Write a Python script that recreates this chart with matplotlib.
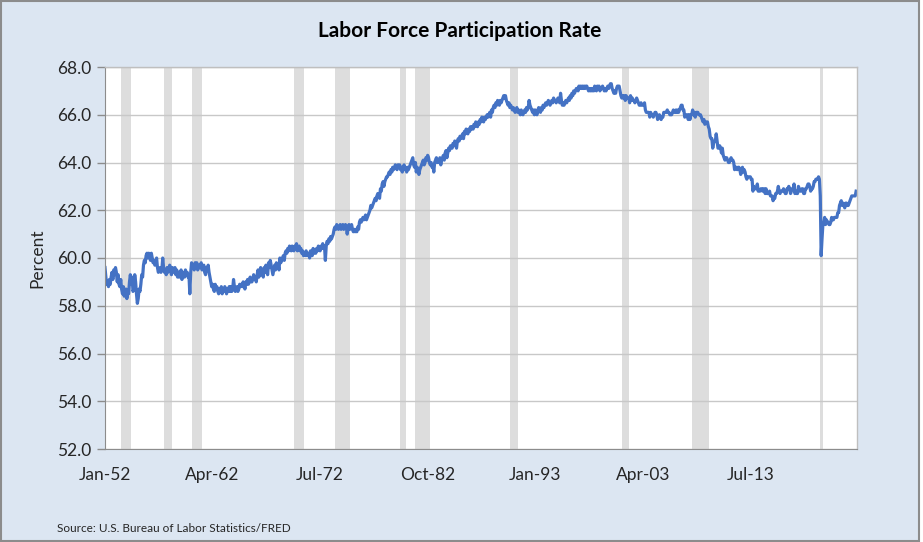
import matplotlib
matplotlib.use("Agg")
import matplotlib.pyplot as plt
from matplotlib.patches import Rectangle
import numpy as np
import pandas as pd

# ---------------- data ----------------
start_month = "1952-01"
lfpr_by_year = {
    1952: [59.6, 59.2, 58.9, 59.0, 58.8, 59.1, 58.9, 59.2, 59.4, 59.1, 59.5, 59.3],
    1953: [59.6, 59.4, 59.0, 59.3, 58.9, 58.8, 59.1, 58.7, 58.5, 58.8, 58.4, 58.6],
    1954: [58.7, 58.3, 58.6, 58.5, 59.0, 59.3, 58.9, 59.2, 58.6, 58.7, 59.3, 59.0],
    1955: [58.5, 58.1, 58.3, 58.7, 58.6, 58.9, 59.3, 59.2, 59.7, 59.9, 59.8, 60.1],
    1956: [60.2, 60.0, 60.2, 60.1, 59.9, 60.2, 60.0, 59.8, 59.9, 59.7, 59.8, 60.0],
    1957: [59.6, 59.4, 59.5, 59.6, 59.4, 59.5, 60.0, 59.6, 59.4, 59.5, 59.3, 59.6],
    1958: [59.4, 59.5, 59.7, 59.5, 59.3, 59.6, 59.5, 59.4, 59.6, 59.3, 59.5, 59.2],
    1959: [59.4, 59.2, 59.3, 59.5, 59.1, 59.4, 59.3, 59.2, 59.5, 59.3, 59.4, 59.2],
    1960: [59.3, 58.5, 59.4, 59.8, 59.6, 59.7, 59.5, 59.8, 59.6, 59.8, 59.5, 59.6],
    1961: [59.7, 59.6, 59.8, 59.5, 59.6, 59.7, 59.4, 59.3, 59.6, 59.5, 59.7, 59.4],
    1962: [59.2, 59.0, 58.8, 58.9, 58.7, 58.6, 58.9, 58.7, 58.8, 58.6, 58.5, 58.7],
    1963: [58.6, 58.8, 58.5, 58.7, 58.6, 58.8, 58.7, 58.5, 58.7, 58.6, 58.8, 58.6],
    1964: [58.8, 58.6, 58.7, 59.1, 58.8, 58.6, 58.7, 58.8, 58.6, 58.7, 58.9, 58.8],
    1965: [58.9, 58.8, 59.0, 58.9, 58.7, 59.0, 58.9, 59.1, 58.9, 59.0, 59.2, 59.0],
    1966: [59.0, 59.1, 59.3, 59.1, 59.2, 59.0, 59.3, 59.5, 59.2, 59.4, 59.6, 59.3],
    1967: [59.5, 59.2, 59.6, 59.4, 59.7, 59.5, 59.3, 59.8, 59.6, 59.9, 59.7, 59.5],
    1968: [59.3, 59.5, 59.7, 59.5, 59.8, 59.6, 59.7, 59.5, 60.0, 59.8, 59.9, 60.0],
    1969: [60.1, 59.9, 60.2, 60.3, 60.2, 60.4, 60.3, 60.5, 60.4, 60.3, 60.5, 60.4],
    1970: [60.3, 60.5, 60.4, 60.6, 60.3, 60.4, 60.5, 60.3, 60.4, 60.2, 60.3, 60.1],
    1971: [60.2, 60.1, 60.3, 60.1, 60.2, 60.2, 60.0, 60.3, 60.2, 60.1, 60.4, 60.2],
    1972: [60.3, 60.2, 60.4, 60.3, 60.5, 60.4, 60.3, 60.5, 60.4, 60.6, 60.4, 60.5],
    1973: [59.9, 60.5, 60.7, 60.6, 60.8, 60.7, 60.9, 60.8, 60.9, 61.0, 61.2, 61.3],
    1974: [61.2, 61.4, 61.3, 61.2, 61.3, 61.4, 61.2, 61.3, 61.4, 61.2, 61.3, 61.4],
    1975: [61.3, 61.0, 61.3, 61.4, 61.2, 61.3, 61.4, 61.2, 61.1, 61.2, 61.1, 61.2],
    1976: [61.1, 61.3, 61.2, 61.5, 61.6, 61.5, 61.6, 61.7, 61.6, 61.7, 61.8, 61.6],
    1977: [61.7, 61.8, 61.9, 62.0, 62.2, 62.1, 62.2, 62.3, 62.4, 62.5, 62.4, 62.6],
    1978: [62.7, 62.6, 62.5, 62.9, 62.8, 63.1, 63.2, 63.0, 63.2, 63.3, 63.4, 63.4],
    1979: [63.5, 63.6, 63.5, 63.7, 63.6, 63.8, 63.7, 63.8, 63.9, 63.8, 63.7, 63.9],
    1980: [63.8, 63.9, 63.7, 63.8, 63.6, 63.8, 63.9, 63.7, 63.8, 63.6, 63.8, 63.7],
    1981: [63.8, 63.9, 64.0, 64.1, 64.2, 63.9, 63.8, 64.0, 63.6, 63.8, 63.7, 63.5],
    1982: [63.7, 63.8, 63.9, 64.0, 64.1, 63.9, 64.0, 64.2, 64.1, 64.3, 64.2, 64.0],
    1983: [63.9, 64.0, 63.8, 63.9, 63.6, 64.0, 64.1, 64.2, 64.0, 64.1, 64.0, 64.2],
    1984: [63.9, 64.1, 64.2, 64.3, 64.1, 64.4, 64.5, 64.2, 64.4, 64.6, 64.5, 64.7],
    1985: [64.7, 64.6, 64.8, 64.7, 64.9, 64.8, 64.6, 64.9, 65.0, 64.9, 65.1, 65.0],
    1986: [65.1, 65.2, 65.0, 65.3, 65.2, 65.4, 65.3, 65.2, 65.4, 65.3, 65.5, 65.4],
    1987: [65.5, 65.4, 65.6, 65.5, 65.7, 65.6, 65.5, 65.7, 65.6, 65.8, 65.7, 65.9],
    1988: [65.8, 65.7, 65.9, 65.8, 65.9, 66.0, 65.9, 66.0, 66.1, 65.9, 66.2, 66.1],
    1989: [66.3, 66.4, 66.3, 66.5, 66.4, 66.6, 66.5, 66.4, 66.6, 66.5, 66.6, 66.7],
    1990: [66.8, 66.7, 66.8, 66.6, 66.5, 66.4, 66.5, 66.3, 66.4, 66.3, 66.2, 66.3],
    1991: [66.2, 66.1, 66.2, 66.3, 66.1, 66.2, 66.1, 66.0, 66.2, 66.1, 66.0, 66.1],
    1992: [66.2, 66.1, 66.3, 66.2, 66.3, 66.6, 66.4, 66.3, 66.2, 66.1, 66.2, 66.0],
    1993: [66.2, 66.1, 66.0, 66.2, 66.3, 66.2, 66.1, 66.3, 66.2, 66.4, 66.3, 66.4],
    1994: [66.5, 66.4, 66.5, 66.6, 66.5, 66.4, 66.5, 66.6, 66.5, 66.7, 66.6, 66.6],
    1995: [66.5, 66.6, 66.7, 66.6, 66.5, 66.9, 66.6, 66.4, 66.5, 66.4, 66.5, 66.6],
    1996: [66.5, 66.6, 66.7, 66.6, 66.8, 66.7, 66.9, 66.8, 67.0, 66.9, 67.0, 67.1],
    1997: [67.1, 67.0, 67.2, 67.1, 67.2, 67.1, 67.2, 67.1, 67.2, 67.1, 67.2, 67.2],
    1998: [67.1, 67.0, 67.1, 67.0, 67.1, 67.0, 67.1, 67.0, 67.2, 67.1, 67.0, 67.2],
    1999: [67.1, 67.2, 67.0, 67.1, 67.1, 67.2, 67.1, 67.0, 67.1, 67.0, 67.1, 67.2],
    2000: [67.1, 67.2, 67.3, 67.3, 67.1, 67.0, 66.9, 67.0, 66.9, 67.1, 67.2, 67.2],
    2001: [67.2, 67.0, 66.8, 66.7, 66.8, 66.7, 66.8, 66.6, 66.8, 66.7, 66.7, 66.7],
    2002: [66.5, 66.8, 66.6, 66.7, 66.6, 66.6, 66.5, 66.6, 66.7, 66.6, 66.5, 66.4],
    2003: [66.4, 66.5, 66.4, 66.4, 66.4, 66.5, 66.2, 66.1, 66.1, 66.1, 66.1, 65.9],
    2004: [66.1, 66.0, 66.0, 65.9, 66.0, 66.1, 66.1, 66.0, 65.8, 65.9, 66.0, 65.9],
    2005: [65.8, 65.9, 65.9, 66.1, 66.1, 66.1, 66.1, 66.2, 66.1, 66.1, 66.0, 66.0],
    2006: [66.0, 66.1, 66.2, 66.1, 66.1, 66.2, 66.1, 66.2, 66.1, 66.2, 66.3, 66.4],
    2007: [66.4, 66.2, 66.2, 65.9, 66.0, 66.0, 66.0, 65.8, 66.0, 65.8, 66.0, 66.0],
    2008: [66.2, 66.0, 66.1, 65.9, 66.1, 66.1, 66.1, 66.0, 66.0, 66.0, 65.9, 65.8],
    2009: [65.7, 65.8, 65.6, 65.7, 65.7, 65.7, 65.5, 65.4, 65.1, 65.0, 65.0, 64.6],
    2010: [64.8, 64.9, 64.9, 65.2, 64.9, 64.6, 64.6, 64.7, 64.6, 64.4, 64.6, 64.3],
    2011: [64.2, 64.1, 64.2, 64.2, 64.1, 64.0, 64.0, 64.1, 64.2, 64.1, 64.1, 64.0],
    2012: [63.7, 63.8, 63.8, 63.7, 63.8, 63.8, 63.7, 63.5, 63.6, 63.8, 63.6, 63.7],
    2013: [63.6, 63.4, 63.3, 63.4, 63.4, 63.4, 63.4, 63.3, 63.3, 62.8, 63.0, 62.9],
    2014: [62.9, 62.9, 63.1, 62.8, 62.8, 62.8, 62.9, 62.9, 62.8, 62.9, 62.9, 62.7],
    2015: [62.9, 62.7, 62.7, 62.7, 62.8, 62.6, 62.6, 62.6, 62.4, 62.5, 62.5, 62.7],
    2016: [62.7, 62.8, 63.0, 62.8, 62.7, 62.8, 62.8, 62.8, 62.9, 62.8, 62.7, 62.7],
    2017: [62.9, 62.9, 63.0, 62.9, 62.7, 62.8, 62.9, 62.9, 63.1, 62.7, 62.8, 62.7],
    2018: [62.7, 63.0, 62.9, 62.8, 62.8, 62.9, 62.9, 62.7, 62.7, 62.9, 62.9, 63.0],
    2019: [63.1, 63.1, 63.0, 62.8, 62.9, 62.9, 63.0, 63.2, 63.2, 63.3, 63.3, 63.3],
    2020: [63.4, 63.3, 62.6, 60.1, 60.8, 61.4, 61.5, 61.7, 61.4, 61.6, 61.5, 61.5],
    2021: [61.4, 61.4, 61.5, 61.7, 61.6, 61.6, 61.7, 61.7, 61.7, 61.7, 61.9, 61.9],
    2022: [62.2, 62.3, 62.4, 62.2, 62.3, 62.2, 62.1, 62.3, 62.3, 62.2, 62.2, 62.3],
    2023: [62.4, 62.5, 62.6, 62.6, 62.6, 62.6, 62.6, 62.8],
}

recession_starts = ["1953-08", "1957-09", "1960-05", "1970-01", "1973-12", "1980-02",
                    "1981-08", "1990-08", "2001-04", "2008-01", "2020-03"]
recession_ends = ["1954-05", "1958-04", "1961-02", "1970-11", "1975-03", "1980-07",
                  "1982-11", "1991-03", "2001-11", "2009-06", "2020-04"]

tick_labels = ["Jan-52", "Apr-62", "Jul-72", "Oct-82", "Jan-93", "Apr-03", "Jul-13"]
y_ticks = [52.0, 54.0, 56.0, 58.0, 60.0, 62.0, 64.0, 66.0, 68.0]

title = "Labor Force Participation Rate"
y_label = "Percent"
source = "Source: U.S. Bureau of Labor Statistics/FRED"

# ---------------- build series ----------------
values = [v for yr in sorted(lfpr_by_year) for v in lfpr_by_year[yr]]
dates = pd.period_range(start=start_month, periods=len(values), freq="M")
x = np.arange(len(values))
label_to_idx = {d.strftime("%b-%y"): i for i, d in enumerate(dates)}
tick_pos = [label_to_idx[t] for t in tick_labels]


def month_idx(s):
    return (pd.Period(s, freq="M") - dates[0]).n

# ---------------- figure ----------------
plt.rcParams['font.family'] = ['Lato', 'DejaVu Sans']
W, H = 923, 542
fig = plt.figure(figsize=(W / 100, H / 100), dpi=100, facecolor="white")

# outer chart-area background with border
bg = Rectangle((0.5 / W, 1.5 / H), 918 / W, 539.5 / H, transform=fig.transFigure,
               facecolor="#DCE6F2", edgecolor="#8C8C8C", linewidth=1.5, zorder=-5)
fig.patches.append(bg)

ax = fig.add_axes([105 / W, 1 - 449 / H, (857 - 105) / W, (449 - 67) / H])
ax.set_zorder(2)
ax.set_facecolor("white")

for s, e in zip(recession_starts, recession_ends):
    ax.axvspan(month_idx(s) - 0.2, month_idx(e) + 1.8, color="#DDDDDD", lw=0, zorder=1)

ax.plot(x, values, color="#4472C4", linewidth=2.3, zorder=3, solid_joinstyle="round")

ax.set_xlim(0, len(values))
ax.set_ylim(52, 68)
ax.set_yticks(y_ticks)
ax.set_yticklabels([f"{v:.1f}" for v in y_ticks], fontsize=12.5, color="#262626")
ax.set_xticks(tick_pos)
ax.set_xticklabels(tick_labels, fontsize=12.5, color="#262626")
ax.tick_params(axis="x", length=0, pad=13)
ax.tick_params(axis="y", length=6, width=1, color="#8C8C8C", pad=4)
ax.grid(axis="y", color="#C8C8C8", linewidth=1, zorder=2)
ax.set_axisbelow(False)

for side in ["top", "right"]:
    ax.spines[side].set_color("#BFBFBF")
    ax.spines[side].set_linewidth(1)
ax.spines["left"].set_color("#8C8C8C")
ax.spines["bottom"].set_color("#8C8C8C")
for sp in ax.spines.values():
    sp.set_zorder(4)

ax.set_ylabel(y_label, fontsize=12.5, color="#262626", labelpad=8)
fig.text(460 / W, 1 - 31 / H, title, fontsize=15, fontweight="bold",
         ha="center", va="center", color="#000000")
fig.text(57 / W, 1 - 528 / H, source, fontsize=8.5, ha="left", va="center", color="#262626")

fig.savefig("out.png", dpi=100, facecolor="white")
